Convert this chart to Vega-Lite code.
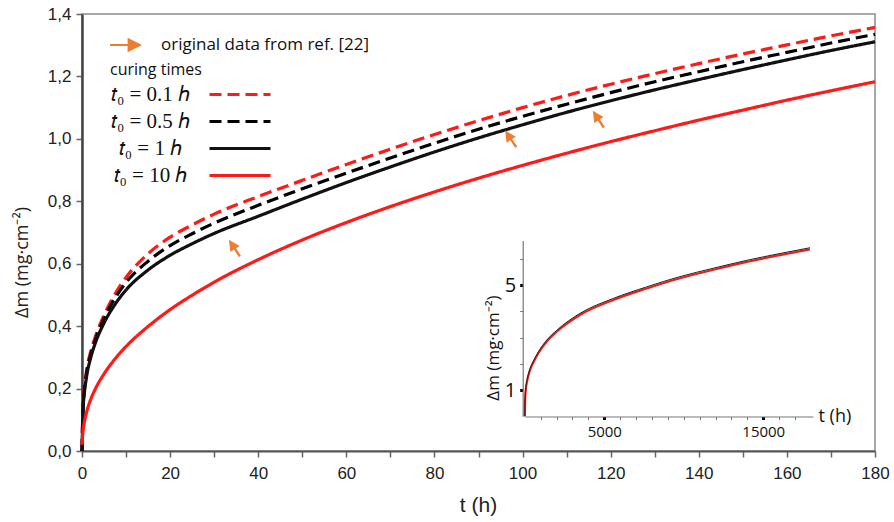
{
  "$schema": "https://vega.github.io/schema/vega-lite/v6.json",
  "width": 793,
  "height": 437,
  "autosize": {"type": "none"},
  "padding": {"left": 82, "top": 14, "right": 19, "bottom": 71},
  "background": "white",
  "config": {
    "font": "Liberation Sans",
    "view": {"stroke": "#8c8c8c", "strokeWidth": 1.5},
    "axis": {"grid": false, "labelFlush": false},
    "legend": {"padding": 0, "titleFontWeight": "normal"}
  },
  "datasets": {
    "curves": [
      {"t": 0, "dm": 0, "series": "𝑡₀ = 0.1 ℎ"},
      {"t": 0.25, "dm": 0.155, "series": "𝑡₀ = 0.1 ℎ"},
      {"t": 0.5, "dm": 0.2, "series": "𝑡₀ = 0.1 ℎ"},
      {"t": 1, "dm": 0.255, "series": "𝑡₀ = 0.1 ℎ"},
      {"t": 2, "dm": 0.32, "series": "𝑡₀ = 0.1 ℎ"},
      {"t": 3, "dm": 0.365, "series": "𝑡₀ = 0.1 ℎ"},
      {"t": 5, "dm": 0.435, "series": "𝑡₀ = 0.1 ℎ"},
      {"t": 7.5, "dm": 0.503, "series": "𝑡₀ = 0.1 ℎ"},
      {"t": 10, "dm": 0.556, "series": "𝑡₀ = 0.1 ℎ"},
      {"t": 15, "dm": 0.632, "series": "𝑡₀ = 0.1 ℎ"},
      {"t": 20, "dm": 0.685, "series": "𝑡₀ = 0.1 ℎ"},
      {"t": 25, "dm": 0.724, "series": "𝑡₀ = 0.1 ℎ"},
      {"t": 30, "dm": 0.759, "series": "𝑡₀ = 0.1 ℎ"},
      {"t": 40, "dm": 0.815, "series": "𝑡₀ = 0.1 ℎ"},
      {"t": 50, "dm": 0.867, "series": "𝑡₀ = 0.1 ℎ"},
      {"t": 60, "dm": 0.918, "series": "𝑡₀ = 0.1 ℎ"},
      {"t": 70, "dm": 0.967, "series": "𝑡₀ = 0.1 ℎ"},
      {"t": 80, "dm": 1.014, "series": "𝑡₀ = 0.1 ℎ"},
      {"t": 90, "dm": 1.058, "series": "𝑡₀ = 0.1 ℎ"},
      {"t": 100, "dm": 1.1, "series": "𝑡₀ = 0.1 ℎ"},
      {"t": 110, "dm": 1.139, "series": "𝑡₀ = 0.1 ℎ"},
      {"t": 120, "dm": 1.175, "series": "𝑡₀ = 0.1 ℎ"},
      {"t": 130, "dm": 1.209, "series": "𝑡₀ = 0.1 ℎ"},
      {"t": 140, "dm": 1.241, "series": "𝑡₀ = 0.1 ℎ"},
      {"t": 150, "dm": 1.272, "series": "𝑡₀ = 0.1 ℎ"},
      {"t": 160, "dm": 1.301, "series": "𝑡₀ = 0.1 ℎ"},
      {"t": 170, "dm": 1.33, "series": "𝑡₀ = 0.1 ℎ"},
      {"t": 180, "dm": 1.357, "series": "𝑡₀ = 0.1 ℎ"},
      {"t": 0, "dm": 0, "series": "𝑡₀ = 0.5 ℎ"},
      {"t": 0.25, "dm": 0.14, "series": "𝑡₀ = 0.5 ℎ"},
      {"t": 0.5, "dm": 0.19, "series": "𝑡₀ = 0.5 ℎ"},
      {"t": 1, "dm": 0.245, "series": "𝑡₀ = 0.5 ℎ"},
      {"t": 2, "dm": 0.31, "series": "𝑡₀ = 0.5 ℎ"},
      {"t": 3, "dm": 0.355, "series": "𝑡₀ = 0.5 ℎ"},
      {"t": 5, "dm": 0.425, "series": "𝑡₀ = 0.5 ℎ"},
      {"t": 7.5, "dm": 0.49, "series": "𝑡₀ = 0.5 ℎ"},
      {"t": 10, "dm": 0.54, "series": "𝑡₀ = 0.5 ℎ"},
      {"t": 15, "dm": 0.608, "series": "𝑡₀ = 0.5 ℎ"},
      {"t": 20, "dm": 0.658, "series": "𝑡₀ = 0.5 ℎ"},
      {"t": 25, "dm": 0.696, "series": "𝑡₀ = 0.5 ℎ"},
      {"t": 30, "dm": 0.73, "series": "𝑡₀ = 0.5 ℎ"},
      {"t": 40, "dm": 0.787, "series": "𝑡₀ = 0.5 ℎ"},
      {"t": 50, "dm": 0.84, "series": "𝑡₀ = 0.5 ℎ"},
      {"t": 60, "dm": 0.89, "series": "𝑡₀ = 0.5 ℎ"},
      {"t": 70, "dm": 0.939, "series": "𝑡₀ = 0.5 ℎ"},
      {"t": 80, "dm": 0.986, "series": "𝑡₀ = 0.5 ℎ"},
      {"t": 90, "dm": 1.031, "series": "𝑡₀ = 0.5 ℎ"},
      {"t": 100, "dm": 1.072, "series": "𝑡₀ = 0.5 ℎ"},
      {"t": 110, "dm": 1.111, "series": "𝑡₀ = 0.5 ℎ"},
      {"t": 120, "dm": 1.148, "series": "𝑡₀ = 0.5 ℎ"},
      {"t": 130, "dm": 1.183, "series": "𝑡₀ = 0.5 ℎ"},
      {"t": 140, "dm": 1.215, "series": "𝑡₀ = 0.5 ℎ"},
      {"t": 150, "dm": 1.247, "series": "𝑡₀ = 0.5 ℎ"},
      {"t": 160, "dm": 1.277, "series": "𝑡₀ = 0.5 ℎ"},
      {"t": 170, "dm": 1.307, "series": "𝑡₀ = 0.5 ℎ"},
      {"t": 180, "dm": 1.335, "series": "𝑡₀ = 0.5 ℎ"},
      {"t": 0, "dm": 0, "series": "𝑡₀ = 1 ℎ"},
      {"t": 0.25, "dm": 0.135, "series": "𝑡₀ = 1 ℎ"},
      {"t": 0.5, "dm": 0.18, "series": "𝑡₀ = 1 ℎ"},
      {"t": 1, "dm": 0.235, "series": "𝑡₀ = 1 ℎ"},
      {"t": 2, "dm": 0.3, "series": "𝑡₀ = 1 ℎ"},
      {"t": 3, "dm": 0.345, "series": "𝑡₀ = 1 ℎ"},
      {"t": 5, "dm": 0.41, "series": "𝑡₀ = 1 ℎ"},
      {"t": 7.5, "dm": 0.47, "series": "𝑡₀ = 1 ℎ"},
      {"t": 10, "dm": 0.516, "series": "𝑡₀ = 1 ℎ"},
      {"t": 15, "dm": 0.58, "series": "𝑡₀ = 1 ℎ"},
      {"t": 20, "dm": 0.627, "series": "𝑡₀ = 1 ℎ"},
      {"t": 25, "dm": 0.664, "series": "𝑡₀ = 1 ℎ"},
      {"t": 30, "dm": 0.697, "series": "𝑡₀ = 1 ℎ"},
      {"t": 40, "dm": 0.752, "series": "𝑡₀ = 1 ℎ"},
      {"t": 50, "dm": 0.807, "series": "𝑡₀ = 1 ℎ"},
      {"t": 60, "dm": 0.86, "series": "𝑡₀ = 1 ℎ"},
      {"t": 70, "dm": 0.91, "series": "𝑡₀ = 1 ℎ"},
      {"t": 80, "dm": 0.958, "series": "𝑡₀ = 1 ℎ"},
      {"t": 90, "dm": 1.003, "series": "𝑡₀ = 1 ℎ"},
      {"t": 100, "dm": 1.045, "series": "𝑡₀ = 1 ℎ"},
      {"t": 110, "dm": 1.085, "series": "𝑡₀ = 1 ℎ"},
      {"t": 120, "dm": 1.122, "series": "𝑡₀ = 1 ℎ"},
      {"t": 130, "dm": 1.157, "series": "𝑡₀ = 1 ℎ"},
      {"t": 140, "dm": 1.19, "series": "𝑡₀ = 1 ℎ"},
      {"t": 150, "dm": 1.222, "series": "𝑡₀ = 1 ℎ"},
      {"t": 160, "dm": 1.253, "series": "𝑡₀ = 1 ℎ"},
      {"t": 170, "dm": 1.283, "series": "𝑡₀ = 1 ℎ"},
      {"t": 180, "dm": 1.311, "series": "𝑡₀ = 1 ℎ"},
      {"t": 0, "dm": 0.02, "series": "𝑡₀ = 10 ℎ"},
      {"t": 0.25, "dm": 0.067, "series": "𝑡₀ = 10 ℎ"},
      {"t": 0.5, "dm": 0.09, "series": "𝑡₀ = 10 ℎ"},
      {"t": 1, "dm": 0.122, "series": "𝑡₀ = 10 ℎ"},
      {"t": 2, "dm": 0.166, "series": "𝑡₀ = 10 ℎ"},
      {"t": 3, "dm": 0.198, "series": "𝑡₀ = 10 ℎ"},
      {"t": 5, "dm": 0.247, "series": "𝑡₀ = 10 ℎ"},
      {"t": 7.5, "dm": 0.295, "series": "𝑡₀ = 10 ℎ"},
      {"t": 10, "dm": 0.335, "series": "𝑡₀ = 10 ℎ"},
      {"t": 15, "dm": 0.399, "series": "𝑡₀ = 10 ℎ"},
      {"t": 20, "dm": 0.453, "series": "𝑡₀ = 10 ℎ"},
      {"t": 25, "dm": 0.499, "series": "𝑡₀ = 10 ℎ"},
      {"t": 30, "dm": 0.541, "series": "𝑡₀ = 10 ℎ"},
      {"t": 40, "dm": 0.613, "series": "𝑡₀ = 10 ℎ"},
      {"t": 50, "dm": 0.676, "series": "𝑡₀ = 10 ℎ"},
      {"t": 60, "dm": 0.732, "series": "𝑡₀ = 10 ℎ"},
      {"t": 70, "dm": 0.783, "series": "𝑡₀ = 10 ℎ"},
      {"t": 80, "dm": 0.83, "series": "𝑡₀ = 10 ℎ"},
      {"t": 90, "dm": 0.874, "series": "𝑡₀ = 10 ℎ"},
      {"t": 100, "dm": 0.915, "series": "𝑡₀ = 10 ℎ"},
      {"t": 110, "dm": 0.954, "series": "𝑡₀ = 10 ℎ"},
      {"t": 120, "dm": 0.991, "series": "𝑡₀ = 10 ℎ"},
      {"t": 130, "dm": 1.026, "series": "𝑡₀ = 10 ℎ"},
      {"t": 140, "dm": 1.06, "series": "𝑡₀ = 10 ℎ"},
      {"t": 150, "dm": 1.092, "series": "𝑡₀ = 10 ℎ"},
      {"t": 160, "dm": 1.124, "series": "𝑡₀ = 10 ℎ"},
      {"t": 170, "dm": 1.154, "series": "𝑡₀ = 10 ℎ"},
      {"t": 180, "dm": 1.183, "series": "𝑡₀ = 10 ℎ"}
    ],
    "arrows": [
      {"t": 34.6, "dm": 0.65, "src": "original data from ref. [22]"},
      {"t": 97.3, "dm": 1.0, "src": "original data from ref. [22]"},
      {"t": 117.2, "dm": 1.063, "src": "original data from ref. [22]"}
    ],
    "inset": [
      {"t": 0, "dm": 0, "line": "red"},
      {"t": 20, "dm": 0.6, "line": "red"},
      {"t": 60, "dm": 1.0, "line": "red"},
      {"t": 150, "dm": 1.35, "line": "red"},
      {"t": 330, "dm": 1.76, "line": "red"},
      {"t": 540, "dm": 2.05, "line": "red"},
      {"t": 850, "dm": 2.4, "line": "red"},
      {"t": 1380, "dm": 2.85, "line": "red"},
      {"t": 2000, "dm": 3.22, "line": "red"},
      {"t": 3470, "dm": 3.86, "line": "red"},
      {"t": 5570, "dm": 4.43, "line": "red"},
      {"t": 7670, "dm": 4.87, "line": "red"},
      {"t": 9760, "dm": 5.26, "line": "red"},
      {"t": 11860, "dm": 5.58, "line": "red"},
      {"t": 13960, "dm": 5.88, "line": "red"},
      {"t": 16050, "dm": 6.14, "line": "red"},
      {"t": 17940, "dm": 6.36, "line": "red"},
      {"t": 0, "dm": 0, "line": "black"},
      {"t": 20, "dm": 0.63, "line": "black"},
      {"t": 60, "dm": 1.04, "line": "black"},
      {"t": 150, "dm": 1.4, "line": "black"},
      {"t": 330, "dm": 1.81, "line": "black"},
      {"t": 540, "dm": 2.1, "line": "black"},
      {"t": 850, "dm": 2.45, "line": "black"},
      {"t": 1380, "dm": 2.9, "line": "black"},
      {"t": 2000, "dm": 3.27, "line": "black"},
      {"t": 3470, "dm": 3.92, "line": "black"},
      {"t": 5570, "dm": 4.49, "line": "black"},
      {"t": 7670, "dm": 4.93, "line": "black"},
      {"t": 9760, "dm": 5.32, "line": "black"},
      {"t": 11860, "dm": 5.64, "line": "black"},
      {"t": 13960, "dm": 5.94, "line": "black"},
      {"t": 16050, "dm": 6.2, "line": "black"},
      {"t": 17940, "dm": 6.42, "line": "black"}
    ]
  },
  "layer": [
    {
      "layer": [
        {
          "data": {"name": "curves"},
          "mark": {"type": "line", "interpolate": "monotone"},
          "encoding": {
            "x": {
              "field": "t", "type": "quantitative",
              "scale": {"domain": [0, 180], "nice": false},
              "axis": {
                "orient": "bottom",
                "values": [0, 10, 20, 30, 40, 50, 60, 70, 80, 90, 100, 110, 120, 130, 140, 150, 160, 170, 180],
                "labelExpr": "datum.value % 20 == 0 ? format(datum.value, 'd') : ''",
                "labelFont": "Liberation Sans Narrow, Liberation Sans",
                "labelFontSize": 17,
                "labelColor": "#222",
                "labelPadding": 8,
                "labelFlush": false,
                "tickSize": 6,
                "tickColor": "#666",
                "tickWidth": 1.5,
                "domainColor": "#555",
                "domainWidth": 2,
                "title": "t (h)",
                "titleFont": "Liberation Sans Narrow, Liberation Sans",
                "titleFontSize": 21,
                "titleFontWeight": "normal",
                "titleColor": "#222",
                "titleX": 396,
                "titleY": 54,
                "titleBaseline": "middle"
              }
            },
            "y": {
              "field": "dm", "type": "quantitative",
              "scale": {"domain": [0, 1.4], "nice": false},
              "axis": {
                "orient": "left",
                "values": [0, 0.2, 0.4, 0.6, 0.8, 1.0, 1.2, 1.4],
                "labelExpr": "replace(format(datum.value, '.1f'), '.', ',')",
                "labelFont": "Liberation Sans Narrow, Liberation Sans",
                "labelFontSize": 17,
                "labelColor": "#222",
                "labelPadding": 5,
                "tickSize": 6,
                "tickColor": "#666",
                "tickWidth": 1.5,
                "domainColor": "#444",
                "domainWidth": 2.5,
                "title": "Δm (mg·cm⁻²)",
                "titleFont": "Open Sans",
                "titleFontSize": 18,
                "titleFontWeight": "normal",
                "titleColor": "#222",
                "titleX": -60,
                "titleY": 248,
                "titleBaseline": "middle",
                "titleAngle": -90
              }
            },
            "color": {
              "field": "series", "type": "nominal",
              "scale": {
                "domain": ["𝑡₀ = 0.1 ℎ", "𝑡₀ = 0.5 ℎ", "𝑡₀ = 1 ℎ", "𝑡₀ = 10 ℎ"],
                "range": ["#ff1a1a", "#000000", "#111111", "#ff1a1a"]
              },
              "legend": {
                "title": "curing times", "orient": "none", "legendX": 28, "legendY": 48,
                "titleFont": "Open Sans", "titleFontSize": 16, "titleFontWeight": "normal", "titleColor": "#111", "titlePadding": 6,
                "labelFont": "Liberation Serif", "labelFontSize": 21, "labelColor": "#111",
                "labelAlign": "center", "labelOffset": -100, "labelLimit": 200,
                "symbolType": "M-6.1,0H6.1", "symbolSize": 100, "symbolOffset": 119.5, "rowPadding": 5
              }
            },
            "strokeDash": {
              "field": "series", "type": "nominal",
              "scale": {
                "domain": ["𝑡₀ = 0.1 ℎ", "𝑡₀ = 0.5 ℎ", "𝑡₀ = 1 ℎ", "𝑡₀ = 10 ℎ"],
                "range": [[12, 6], [12, 6], [1, 0], [1, 0]]
              },
              "legend": {
                "title": "curing times", "orient": "none", "legendX": 28, "legendY": 48,
                "titleFont": "Open Sans", "titleFontSize": 16, "titleFontWeight": "normal", "titleColor": "#111", "titlePadding": 6,
                "labelFont": "Liberation Serif", "labelFontSize": 21, "labelColor": "#111",
                "labelAlign": "center", "labelOffset": -100, "labelLimit": 200,
                "symbolType": "M-6.1,0H6.1", "symbolSize": 100, "symbolOffset": 119.5, "rowPadding": 5
              }
            },
            "strokeWidth": {
              "field": "series", "type": "nominal",
              "scale": {
                "domain": ["𝑡₀ = 0.1 ℎ", "𝑡₀ = 0.5 ℎ", "𝑡₀ = 1 ℎ", "𝑡₀ = 10 ℎ"],
                "range": [3.2, 3.2, 4.8, 3]
              },
              "legend": {
                "title": "curing times", "orient": "none", "legendX": 28, "legendY": 48,
                "titleFont": "Open Sans", "titleFontSize": 16, "titleFontWeight": "normal", "titleColor": "#111", "titlePadding": 6,
                "labelFont": "Liberation Serif", "labelFontSize": 21, "labelColor": "#111",
                "labelAlign": "center", "labelOffset": -100, "labelLimit": 200,
                "symbolType": "M-6.1,0H6.1", "symbolSize": 100, "symbolOffset": 119.5, "rowPadding": 5
              }
            }
          }
        },
        {
          "data": {"name": "arrows"},
          "mark": {
            "type": "point",
            "filled": true,
            "opacity": 1,
            "size": 400,
            "shape": "M-0.55,-0.835L0.514,-0.219L0.155,0.018L0.65,0.769L0.45,0.901L-0.045,0.15L-0.404,0.386Z"
          },
          "encoding": {
            "x": {"field": "t", "type": "quantitative"},
            "y": {"field": "dm", "type": "quantitative"},
            "fill": {
              "field": "src", "type": "nominal",
              "scale": {"range": ["#ED7D31"]},
              "legend": {
                "title": null,
                "orient": "none",
                "legendX": 28,
                "legendY": 15,
                "symbolType": "M-1,-0.06H0.1V-0.45L1,0L0.1,0.45V0.06H-1Z",
                "symbolSize": 1024,
                "symbolStrokeWidth": 0,
                "labelFont": "Open Sans",
                "labelFontSize": 17,
                "labelColor": "#111",
                "labelOffset": 19,
                "labelLimit": 320
              }
            }
          }
        }
      ]
    },
    {
      "layer": [
        {
          "data": {"name": "inset"},
          "transform": [{"filter": "datum.line == 'red'"}],
          "mark": {"type": "line", "color": "#e8201c", "strokeWidth": 2.2, "interpolate": "monotone"},
          "encoding": {
            "x": {
              "field": "t", "type": "quantitative",
              "scale": {"domain": [0, 18130], "range": [442.8, 731], "nice": false, "zero": true},
              "axis": {
                "orient": "bottom",
                "offset": -34.5,
                "values": [1000, 2000, 3000, 4000, 5000, 6000, 7000, 8000, 9000, 10000, 11000, 12000, 13000, 14000, 15000, 16000, 17000],
                "labelExpr": "datum.value == 5000 || datum.value == 15000 ? format(datum.value, 'd') : ''",
                "labelFont": "Open Sans",
                "labelFontSize": 15,
                "labelColor": "#111",
                "labelPadding": 5,
                "labelFlush": false,
                "tickSize": 3,
                "tickColor": {"condition": {"test": "datum.value == 5000 || datum.value == 15000", "value": "#000"}, "value": "#777"},
                "tickWidth": {"condition": {"test": "datum.value == 5000 || datum.value == 15000", "value": 3}, "value": 1},
                "domainColor": "#777",
                "domainWidth": 1.2,
                "title": "t (h)",
                "titleFont": "Open Sans",
                "titleFontSize": 18,
                "titleFontWeight": "normal",
                "titleColor": "#111",
                "titleX": 736,
                "titleY": 0,
                "titleAlign": "left",
                "titleBaseline": "middle",
                "titleAngle": 0
              }
            },
            "y": {
              "field": "dm", "type": "quantitative",
              "scale": {"domain": [0, 6.7], "range": [402.25, 226.4], "nice": false},
              "axis": {
                "orient": "left",
                "offset": -440.7,
                "values": [1, 2, 3, 4, 5, 6],
                "labelExpr": "datum.value == 1 || datum.value == 5 ? format(datum.value, 'd') : ''",
                "labelFont": "Open Sans",
                "labelFontSize": 20,
                "labelColor": "#111",
                "labelPadding": 4,
                "tickSize": 3,
                "tickColor": {"condition": {"test": "datum.value == 1 || datum.value == 5", "value": "#000"}, "value": "#777"},
                "tickWidth": {"condition": {"test": "datum.value == 1 || datum.value == 5", "value": 3}, "value": 1},
                "domainColor": "#777",
                "domainWidth": 1.2,
                "title": "Δm (mg·cm⁻²)",
                "titleFont": "Open Sans",
                "titleFontSize": 17,
                "titleFontWeight": "normal",
                "titleColor": "#111",
                "titleX": -29.7,
                "titleY": 333.5,
                "titleBaseline": "middle",
                "titleAngle": -90
              }
            }
          }
        },
        {
          "data": {"name": "inset"},
          "transform": [{"filter": "datum.line == 'black'"}],
          "mark": {"type": "line", "color": "#222", "strokeWidth": 1, "interpolate": "monotone"},
          "encoding": {
            "x": {"field": "t", "type": "quantitative"},
            "y": {"field": "dm", "type": "quantitative"}
          }
        },
        {
          "mark": {"type": "text", "text": "long term asymptotic behavior", "font": "Open Sans", "fontSize": 15, "align": "left", "baseline": "middle", "color": "#111"},
          "encoding": {
            "x": {"datum": 516, "type": "quantitative"},
            "y": {"datum": 6.26, "type": "quantitative"}
          }
        }
      ]
    }
  ],
  "resolve": {
    "scale": {"x": "independent", "y": "independent"},
    "axis": {"x": "independent", "y": "independent"}
  }
}
